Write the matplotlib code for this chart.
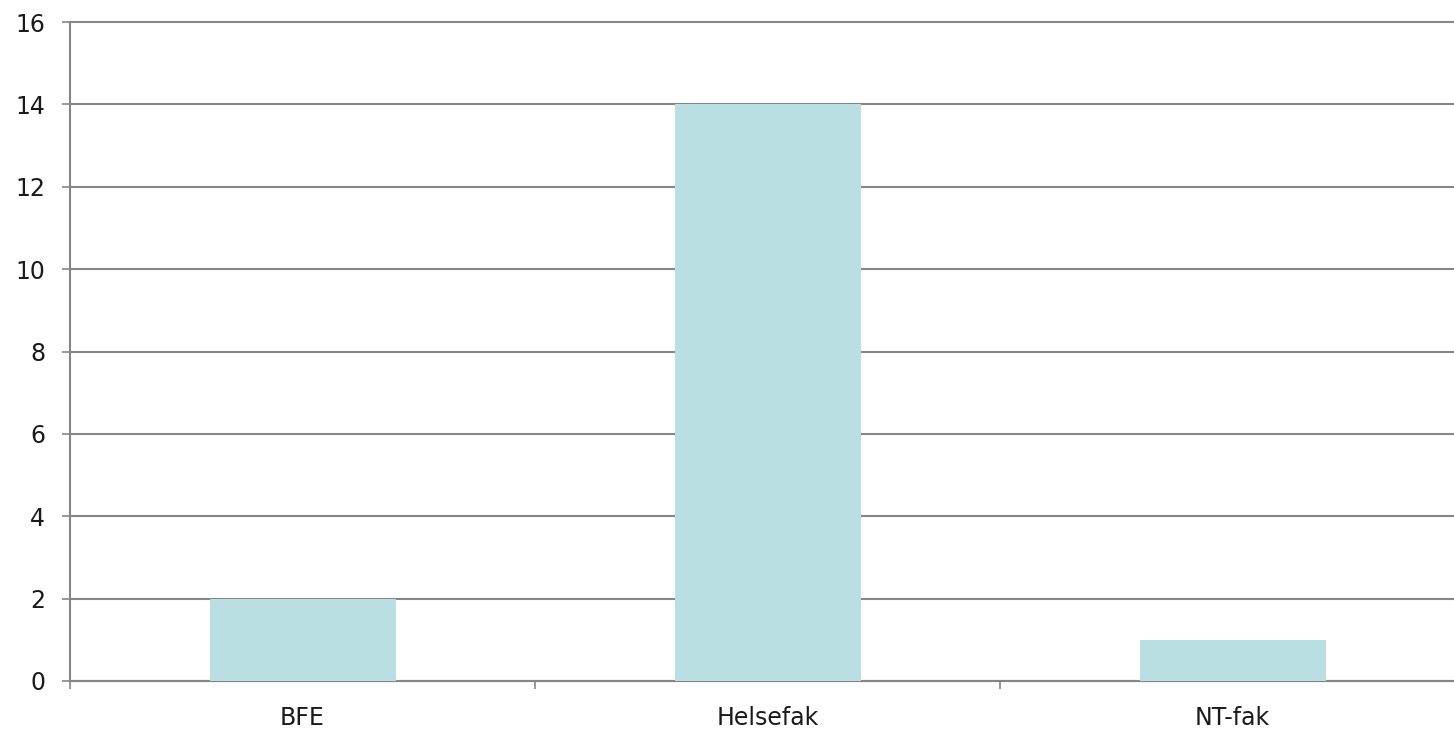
import matplotlib
matplotlib.use("Agg")
import matplotlib.pyplot as plt
from matplotlib.ticker import FixedLocator, NullFormatter

categories = ["BFE", "Helsefak", "NT-fak"]
values = [2, 14, 1]
y_ticks = [0, 2, 4, 6, 8, 10, 12, 14, 16]

grey = "#868686"
bar_color = "#B9DFE2"

fig = plt.figure(figsize=(14.54, 7.31), dpi=100)
ax = fig.add_axes([70/1454, 1-681/731, (1465-70)/1454, (681-22)/731])

x = list(range(len(categories)))
ax.bar(x, values, width=0.4, color=bar_color, zorder=3)

ax.set_xlim(-0.5, len(categories) - 0.5)
ax.set_ylim(0, 16)
ax.set_yticks(y_ticks)
ax.set_yticklabels([str(v) for v in y_ticks])
ax.yaxis.grid(True, color=grey, linewidth=1.5, zorder=1)
ax.set_axisbelow(True)
for gl in ax.get_ygridlines():
    gl.set_clip_on(False)

ax.xaxis.set_major_locator(FixedLocator([i - 0.5 for i in range(len(categories) + 1)]))
ax.xaxis.set_major_formatter(NullFormatter())
ax.xaxis.set_minor_locator(FixedLocator(x))
ax.set_xticklabels(categories, minor=True)
ax.tick_params(axis="x", which="minor", length=0, pad=18, labelsize=17, labelcolor="#1a1a1a")
ax.tick_params(axis="x", which="major", length=6, width=1.2, color=grey)
ax.tick_params(axis="y", length=6, width=1.2, color=grey, pad=12, labelsize=17, labelcolor="#1a1a1a")

for s in ["top", "right"]:
    ax.spines[s].set_visible(False)
for s in ["left", "bottom"]:
    ax.spines[s].set_color(grey)
    ax.spines[s].set_linewidth(1.5)

fig.savefig("out.png", dpi=100)
